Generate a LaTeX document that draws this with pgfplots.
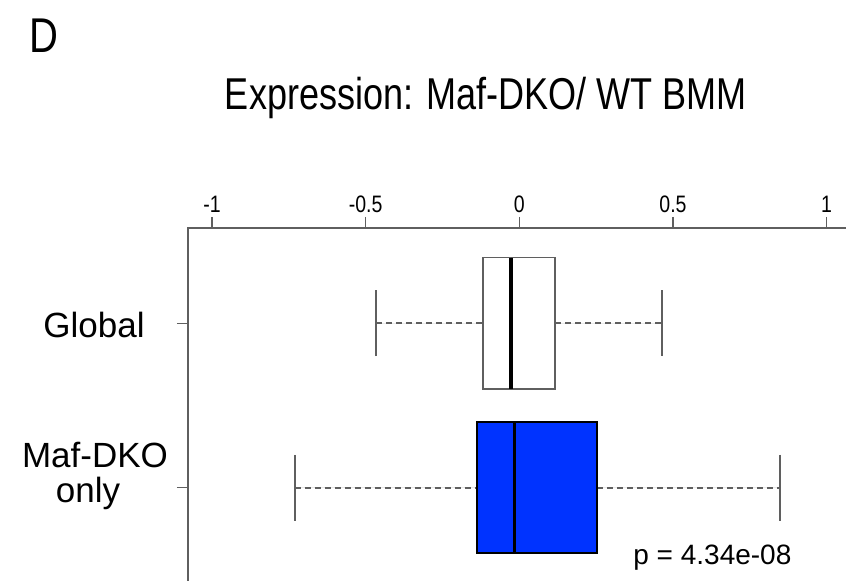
\documentclass[border=0pt]{standalone}
\usepackage{fontspec}
\setmainfont{Liberation Sans}
\newfontfamily\narrowfont{Liberation Sans}[FakeStretch=0.82]
\usepackage{graphicx}
\usepackage{pgfplots}
\pgfplotsset{compat=1.18}
\usepgfplotslibrary{statistics}

\definecolor{framegray}{RGB}{95,95,95}
\definecolor{boxblue}{RGB}{0,51,255}

% whiskers: dashed connector, solid cap
\pgfplotsset{
  split whiskers/.style={
    boxplot/draw/lower whisker/.code={%
      \draw[framegray, line width=0.9pt, dash pattern=on 3pt off 2pt]
        (boxplot box cs:\pgfplotsboxplotvalue{lower whisker},0.5) --
        (boxplot box cs:\pgfplotsboxplotvalue{lower quartile},0.5);
      \draw[framegray, line width=0.9pt]
        (boxplot whisker cs:\pgfplotsboxplotvalue{lower whisker},0) --
        (boxplot whisker cs:\pgfplotsboxplotvalue{lower whisker},1);
    },
    boxplot/draw/upper whisker/.code={%
      \draw[framegray, line width=0.9pt, dash pattern=on 3pt off 2pt]
        (boxplot box cs:\pgfplotsboxplotvalue{upper quartile},0.5) --
        (boxplot box cs:\pgfplotsboxplotvalue{upper whisker},0.5);
      \draw[framegray, line width=0.9pt]
        (boxplot whisker cs:\pgfplotsboxplotvalue{upper whisker},0) --
        (boxplot whisker cs:\pgfplotsboxplotvalue{upper whisker},1);
    },
  },
}

\begin{document}
\begin{tikzpicture}
\useasboundingbox (0,0) rectangle (423pt,-290.5pt);

% panel letter and title
\node[anchor=base west, inner sep=0pt, font=\narrowfont\fontsize{24.4}{28}\selectfont] at (14.5pt,-26.5pt) {D};
\node[anchor=base, inner sep=0pt] at (243pt,-55pt)
  {\resizebox{261pt}{\height}{\fontsize{22.3}{26}\selectfont Expression: Maf-DKO/ WT BMM}};

\begin{axis}[
  at={(94pt,-114pt)}, anchor=north west,
  scale only axis, width=331.3pt, height=177.5pt,
  xmin=-1.078, xmax=1.078,
  ymin=0.42, ymax=2.58, y dir=reverse,
  axis line style={framegray, line width=0.8pt},
  xtick={-1,-0.5,0,0.5,1},
  xticklabels={-1,-0.5,0,0.5,1},
  xtick pos=top, xticklabel pos=top,
  ytick={1,2}, yticklabels={}, ytick pos=left,
  tick align=outside,
  major tick length=5.5pt,
  tick style={framegray, line width=0.8pt},
  xticklabel style={font=\narrowfont\fontsize{11.9}{14}\selectfont, yshift=-1.5pt},
  boxplot/draw direction=x,
  split whiskers,
]
% Global
\addplot[
  boxplot prepared={draw position=1,
    lower whisker=-0.467, lower quartile=-0.118, median=-0.027,
    upper quartile=0.117, upper whisker=0.465,
    box extend=0.8, whisker extend=0.4},
  draw=framegray, fill=white, line width=0.8pt,
  boxplot/every median/.style={black, line width=1.6pt},
] coordinates {};
% Maf-DKO only
\addplot[
  boxplot prepared={draw position=2,
    lower whisker=-0.731, lower quartile=-0.137, median=-0.016,
    upper quartile=0.254, upper whisker=0.849,
    box extend=0.8, whisker extend=0.4},
  draw=black, fill=boxblue, line width=1pt,
  boxplot/every median/.style={black, line width=1.6pt},
] coordinates {};
\end{axis}

% category labels
\node[anchor=base, inner sep=0pt, font=\fontsize{17.5}{21}\selectfont] at (47pt,-169pt) {Global};
\node[anchor=base, inner sep=0pt, font=\fontsize{17.5}{21}\selectfont] at (47.5pt,-234pt) {Maf-DKO};
\node[anchor=base, inner sep=0pt, font=\fontsize{17.5}{21}\selectfont] at (44pt,-251.5pt) {only};

% test result
\node[anchor=base west, inner sep=0pt, font=\fontsize{14}{16}\selectfont] at (316.5pt,-282.5pt) {p = 4.34e-08};
\end{tikzpicture}
\end{document}
